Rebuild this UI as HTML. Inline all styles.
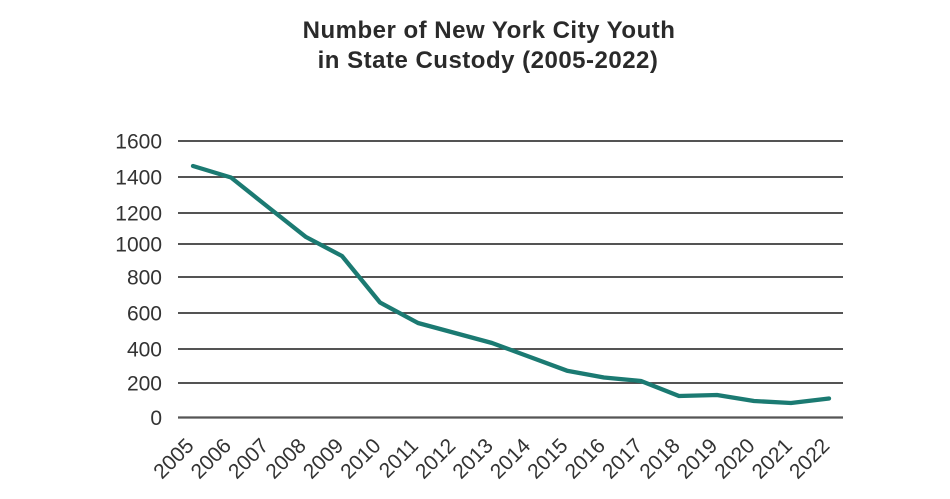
<!DOCTYPE html>
<html>
<head>
<meta charset="utf-8">
<style>
  html, body { margin:0; padding:0; background:#ffffff; }
  body { width:950px; height:499px; overflow:hidden; }
  svg { display:block; }
  .t { font-family:"Liberation Sans", sans-serif; font-weight:bold; font-size:24px; fill:#2a2a2a; letter-spacing:0.5px; }
  .yl { font-family:"Liberation Sans", sans-serif; font-size:21px; fill:#333333; }
  .xl { font-family:"Liberation Sans", sans-serif; font-size:21px; fill:#333333; }
</style>
</head>
<body>
<svg width="950" height="499" viewBox="0 0 950 499" xmlns="http://www.w3.org/2000/svg">
  <text class="t" x="489" y="38" text-anchor="middle">Number of New York City Youth</text>
  <text class="t" x="488" y="68" text-anchor="middle">in State Custody (2005-2022)</text>

  <g stroke="#3c3c3c" stroke-width="1.8">
    <line x1="178" y1="141" x2="843" y2="141"/>
    <line x1="178" y1="177" x2="843" y2="177"/>
    <line x1="178" y1="213" x2="843" y2="213"/>
    <line x1="178" y1="244" x2="843" y2="244"/>
    <line x1="178" y1="277" x2="843" y2="277"/>
    <line x1="178" y1="313" x2="843" y2="313"/>
    <line x1="178" y1="349" x2="843" y2="349"/>
    <line x1="178" y1="383" x2="843" y2="383"/>
    <line x1="178" y1="417.5" x2="843" y2="417.5" stroke="#555555" stroke-width="2.2"/>
  </g>

  <g class="yl" text-anchor="end">
    <text x="162" y="148.5">1600</text>
    <text x="162" y="184.5">1400</text>
    <text x="162" y="220.5">1200</text>
    <text x="162" y="251.5">1000</text>
    <text x="162" y="284.5">800</text>
    <text x="162" y="320.5">600</text>
    <text x="162" y="356.5">400</text>
    <text x="162" y="390.5">200</text>
    <text x="162" y="425">0</text>
  </g>

  <polyline fill="none" stroke="#1b7a72" stroke-width="4.3" stroke-linejoin="round" stroke-linecap="round"
    points="193,166 231,177.5 268,207 306,237 342,256 380,302.5 418,323 455,333 492,343 530,357 567,370.7 604,377.5 641,381 679,396 717,395 754,401 791,403 829,398.5"/>

  <g class="xl" text-anchor="end">
    <text transform="translate(195,447) rotate(-45)">2005</text>
    <text transform="translate(232.4,447) rotate(-45)">2006</text>
    <text transform="translate(269.8,447) rotate(-45)">2007</text>
    <text transform="translate(307.2,447) rotate(-45)">2008</text>
    <text transform="translate(344.6,447) rotate(-45)">2009</text>
    <text transform="translate(382,447) rotate(-45)">2010</text>
    <text transform="translate(419.4,447) rotate(-45)">2011</text>
    <text transform="translate(456.8,447) rotate(-45)">2012</text>
    <text transform="translate(494.2,447) rotate(-45)">2013</text>
    <text transform="translate(531.6,447) rotate(-45)">2014</text>
    <text transform="translate(569,447) rotate(-45)">2015</text>
    <text transform="translate(606.4,447) rotate(-45)">2016</text>
    <text transform="translate(643.8,447) rotate(-45)">2017</text>
    <text transform="translate(681.2,447) rotate(-45)">2018</text>
    <text transform="translate(718.6,447) rotate(-45)">2019</text>
    <text transform="translate(756,447) rotate(-45)">2020</text>
    <text transform="translate(793.4,447) rotate(-45)">2021</text>
    <text transform="translate(830.8,447) rotate(-45)">2022</text>
  </g>
</svg>
</body>
</html>
